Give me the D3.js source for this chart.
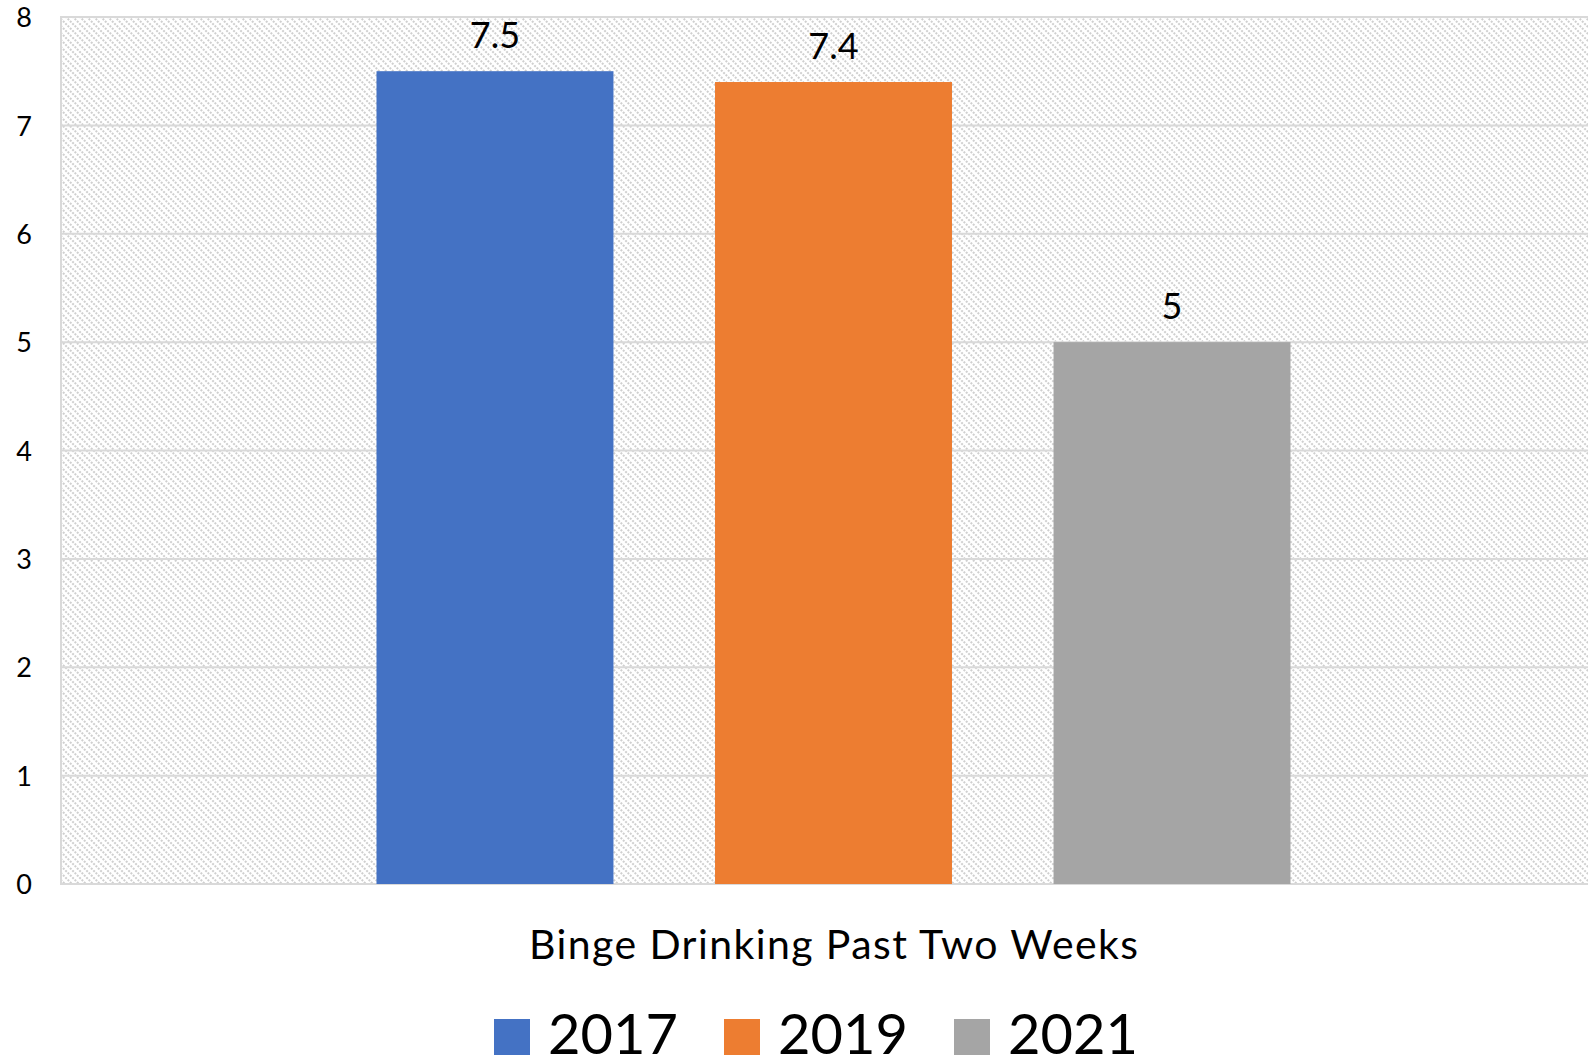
<!DOCTYPE html>
<html>
<head>
<meta charset="utf-8">
<script src="https://cdn.jsdelivr.net/npm/d3@7/dist/d3.min.js"></script>
<style>
  html, body { margin: 0; padding: 0; background: #fff; }
  svg { display: block; }
  text { font-family: Lato, "Open Sans", sans-serif; fill: #000; }
</style>
</head>
<body>
<svg id="chart" width="1588" height="1060"></svg>
<script>
// Survey results: share of respondents reporting binge drinking in the past two weeks
const category = "Binge Drinking Past Two Weeks";
const years = ["2017", "2019", "2021"];
const values = [7.5, 7.4, 5];
const colors = ["#4472C4", "#ED7D31", "#A5A5A5"];
const yTicks = [0, 1, 2, 3, 4, 5, 6, 7, 8];

const svg = d3.select("#chart");
const plot = { left: 61, right: 1606, top: 17, bottom: 884 };

// Dotted downward-diagonal hatch for the plot background
const defs = svg.append("defs");
const T = 7;
const pat = defs.append("pattern")
  .attr("id", "hatch")
  .attr("patternUnits", "userSpaceOnUse")
  .attr("width", T).attr("height", T);
pat.append("rect").attr("width", T).attr("height", T).attr("fill", "#fff");
pat.append("path")
  .attr("d", `M0,0 L${T},${T} M${-T},0 L${T},${2 * T} M0,${-T} L${2 * T},${T}`)
  .attr("stroke", "#cfcfcf")
  .attr("stroke-width", 2)
  .attr("stroke-dasharray", "2,1.3");

const y = d3.scaleLinear().domain([0, 8]).range([plot.bottom, plot.top]);
const x = d3.scaleBand()
  .domain(years)
  .range([plot.left, plot.right])
  .paddingInner(0.3)
  .paddingOuter(0.932);

svg.append("rect")
  .attr("x", plot.left).attr("y", plot.top)
  .attr("width", plot.right - plot.left).attr("height", plot.bottom - plot.top)
  .attr("fill", "url(#hatch)");

// Horizontal gridlines
svg.append("g")
  .selectAll("line")
  .data(yTicks)
  .join("line")
  .attr("x1", plot.left).attr("x2", plot.right)
  .attr("y1", d => y(d)).attr("y2", d => y(d))
  .attr("stroke", "#d9d9d9")
  .attr("stroke-width", 2);

// Left border of plot area
svg.append("line")
  .attr("x1", plot.left).attr("x2", plot.left)
  .attr("y1", plot.top - 1).attr("y2", plot.bottom + 1)
  .attr("stroke", "#d9d9d9").attr("stroke-width", 2);

// Y axis labels
const yAxis = d3.axisLeft(y).tickValues(yTicks).tickSize(0).tickPadding(0)
  .tickFormat(d3.format("d"));
const gy = svg.append("g").attr("transform", "translate(32,0)").call(yAxis);
gy.select(".domain").remove();
gy.selectAll("text")
  .attr("font-family", "Lato, sans-serif")
  .attr("font-size", 27)
  .attr("fill", "#000")
  .attr("dy", "0.36em");

// Bars
svg.append("g")
  .selectAll("rect")
  .data(values)
  .join("rect")
  .attr("x", (d, i) => x(years[i]))
  .attr("width", x.bandwidth())
  .attr("y", d => y(d))
  .attr("height", d => y(0) - y(d))
  .attr("fill", (d, i) => colors[i]);

// Value labels above bars
svg.append("g")
  .selectAll("text")
  .data(values)
  .join("text")
  .attr("x", (d, i) => x(years[i]) + x.bandwidth() / 2)
  .attr("y", d => y(d) - 23)
  .attr("text-anchor", "middle")
  .attr("font-size", 36)
  .text(d => d);

// Category label
svg.append("text")
  .attr("x", (x(years[0]) + x(years[2]) + x.bandwidth()) / 2)
  .attr("y", 959)
  .attr("text-anchor", "middle")
  .attr("font-size", 41)
  .attr("textLength", 609)
  .attr("lengthAdjust", "spacing")
  .text(category);

// Legend
const legendX = [494, 724, 954];
const lg = svg.append("g")
  .selectAll("g")
  .data(years)
  .join("g")
  .attr("transform", (d, i) => `translate(${legendX[i]},0)`);
lg.append("rect")
  .attr("x", 0).attr("y", 1019)
  .attr("width", 36).attr("height", 36)
  .attr("fill", (d, i) => colors[i]);
lg.append("text")
  .attr("x", 54).attr("y", 1054)
  .attr("font-size", 56)
  .text(d => d);
</script>
</body>
</html>
